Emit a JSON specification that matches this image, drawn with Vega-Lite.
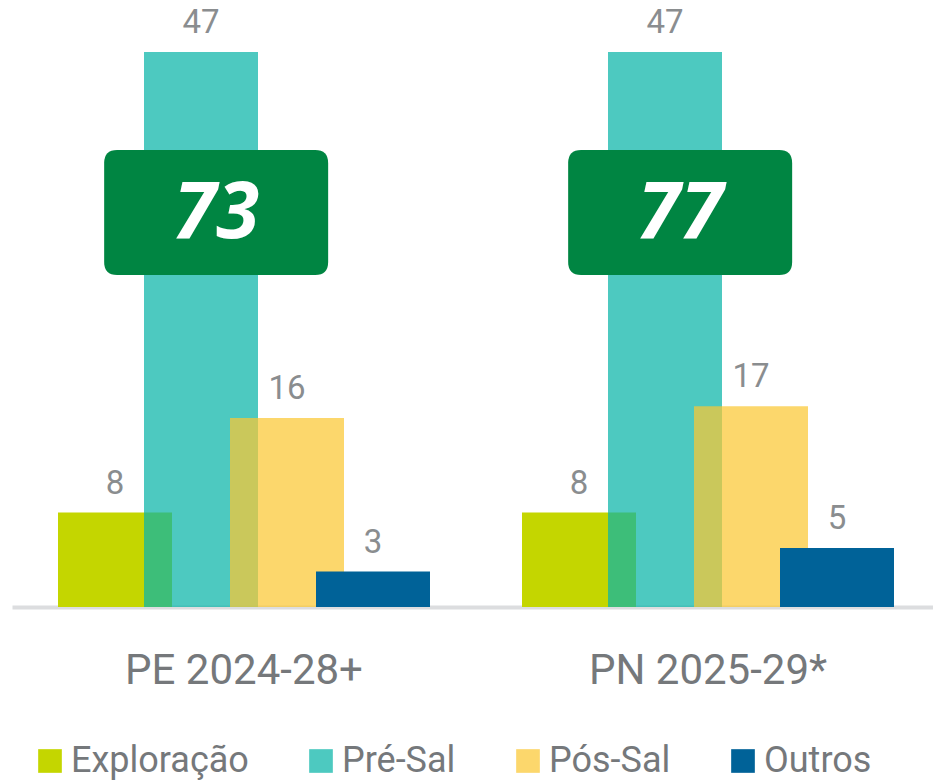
{
  "$schema": "https://vega.github.io/schema/vega-lite/v6.json",
  "width": 933,
  "height": 555,
  "autosize": {"type": "none"},
  "padding": {"left": 0, "top": 52, "right": 0, "bottom": 175},
  "background": "white",
  "config": {
    "view": {"stroke": null},
    "font": "Roboto",
    "legend": {
      "orient": "none",
      "legendX": 32,
      "legendY": 691,
      "direction": "horizontal",
      "title": null,
      "symbolType": "square",
      "symbolSize": 560,
      "symbolStrokeWidth": 0,
      "labelFontSize": 36,
      "labelColor": "#75787b",
      "labelFont": "Roboto",
      "labelLimit": 0,
      "columnPadding": 54,
      "labelOffset": 3,
      "padding": 0
    }
  },
  "datasets": {
    "barras": [
      {"plano": "PE 2024-28+", "segmento": "Exploração", "valor": 8},
      {"plano": "PE 2024-28+", "segmento": "Pré-Sal", "valor": 47},
      {"plano": "PE 2024-28+", "segmento": "Pós-Sal", "valor": 16},
      {"plano": "PE 2024-28+", "segmento": "Outros", "valor": 3},
      {"plano": "PN 2025-29*", "segmento": "Exploração", "valor": 8},
      {"plano": "PN 2025-29*", "segmento": "Pré-Sal", "valor": 47},
      {"plano": "PN 2025-29*", "segmento": "Pós-Sal", "valor": 17},
      {"plano": "PN 2025-29*", "segmento": "Outros", "valor": 5}
    ],
    "totais": [
      {"plano": "PE 2024-28+", "total": 73},
      {"plano": "PN 2025-29*", "total": 77}
    ]
  },
  "layer": [
    {
      "data": {"name": "barras"},
      "mark": {"type": "bar", "width": 114},
      "encoding": {
        "x": {
          "field": "plano",
          "type": "nominal",
          "title": null,
          "scale": {"range": [12, 940], "paddingInner": 0, "paddingOuter": 0},
          "axis": {
            "labelFontSize": 42,
            "labelColor": "#75787b",
            "labelFont": "Roboto",
            "labelAngle": 0,
            "labelPadding": 43,
            "labelLimit": 0,
            "ticks": false,
            "domainColor": "#dcdddf",
            "domainWidth": 4
          }
        },
        "xOffset": {
          "field": "segmento",
          "type": "nominal",
          "scale": {"type": "point", "domain": ["Exploração", "Pré-Sal", "Pós-Sal", "Outros"], "range": [103, 361], "padding": 0}
        },
        "y": {
          "field": "valor",
          "type": "quantitative",
          "stack": null,
          "scale": {"domain": [0, 47], "nice": false},
          "axis": null
        },
        "color": {
          "field": "segmento",
          "type": "nominal",
          "scale": {"domain": ["Exploração", "Pré-Sal", "Pós-Sal", "Outros"], "range": ["#c4d600", "#08b4a8", "#fbc733", "#006298"]}
        },
        "opacity": {
          "field": "segmento",
          "type": "nominal",
          "scale": {"type": "ordinal", "domain": ["Exploração", "Pré-Sal", "Pós-Sal", "Outros"], "range": [1, 0.72, 0.72, 1]}
        }
      }
    },
    {
      "data": {"name": "barras"},
      "mark": {"type": "text", "dy": -19, "baseline": "alphabetic", "fontSize": 33, "color": "#8a8d8f", "font": "Roboto"},
      "encoding": {
        "x": {"field": "plano", "type": "nominal"},
        "xOffset": {"field": "segmento", "type": "nominal"},
        "y": {"field": "valor", "type": "quantitative", "stack": null},
        "text": {"field": "valor", "type": "quantitative"}
      }
    },
    {
      "data": {"name": "totais"},
      "mark": {
        "type": "point",
        "shape": "M -0.884,-0.558 L 0.884,-0.558 Q 1,-0.558 1,-0.442 L 1,0.442 Q 1,0.558 0.884,0.558 L -0.884,0.558 Q -1,0.558 -1,0.442 L -1,-0.442 Q -1,-0.558 -0.884,-0.558 Z",
        "size": 50176,
        "filled": true,
        "fill": "#008542",
        "opacity": 1,
        "strokeWidth": 0
      },
      "encoding": {
        "x": {"field": "plano", "type": "nominal", "bandPosition": 0.44},
        "y": {"datum": 33.4, "type": "quantitative"}
      }
    },
    {
      "data": {"name": "totais"},
      "mark": {"type": "text", "fontSize": 78, "fontWeight": "bold", "fontStyle": "italic", "color": "white", "font": "Open Sans", "baseline": "middle", "dy": 2},
      "encoding": {
        "x": {"field": "plano", "type": "nominal", "bandPosition": 0.44},
        "y": {"datum": 33.4, "type": "quantitative"},
        "text": {"field": "total", "type": "quantitative"}
      }
    }
  ]
}
